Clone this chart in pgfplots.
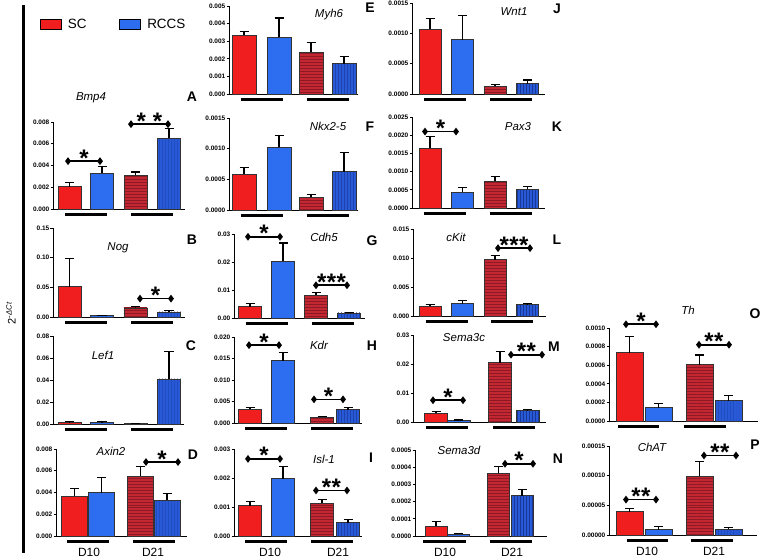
\documentclass[border=0pt]{standalone}
\usepackage{fontspec}
\setmainfont{Liberation Sans}
\usepackage{pgfplots}
\pgfplotsset{compat=1.18}
\usetikzlibrary{patterns}
\definecolor{scred}{RGB}{240,30,30}
\definecolor{scdark}{RGB}{195,40,50}
\definecolor{scstripe}{RGB}{140,25,35}
\definecolor{rcblue}{RGB}{45,110,240}
\definecolor{rcdark}{RGB}{40,90,215}
\definecolor{rcstripe}{RGB}{25,55,150}
\pgfplotsset{
  panel/.style={scale only axis, anchor=south west, clip=false,
    axis x line*=bottom, axis y line*=left,
    axis line style={-, line width=0.9bp, black},
    ymin=0, xtick=\empty, enlargelimits=false,
    tick align=outside, major tick length=2.5bp,
    ytick style={line width=0.8bp, black},
    scaled y ticks=false,
    yticklabel style={font=\bfseries\fontsize{6.5}{7}\selectfont, /pgf/number format/fixed, /pgf/number format/fixed zerofill, /pgf/number format/assume math mode=true, inner sep=1bp},
  },
  bottom/.style={xtick={#1}, xticklabels={D10,D21}, xtick style={draw=none},
    xticklabel style={font=\fontsize{12}{12}\selectfont, anchor=center, inner sep=0pt, yshift=-13.5bp}},
  prec/.style={yticklabel style={/pgf/number format/precision=#1}},
  errb/.style={error bars/y dir=plus, error bars/y explicit,
    error bars/error bar style={line width=1.1bp, black},
    error bars/error mark options={rotate=90, mark size=4.5bp, line width=1.1bp, black}},
  sc10/.style={ybar, bar shift=0pt, fill=scred, draw=black!80, line width=0.8bp, errb},
  rc10/.style={ybar, bar shift=0pt, fill=rcblue, draw=black!80, line width=0.8bp, errb},
  sc21/.style={ybar, bar shift=0pt, fill=scdark, draw=black!80, line width=0.8bp, postaction={pattern=horizontal lines, pattern color=scstripe}, errb},
  rc21/.style={ybar, bar shift=0pt, fill=rcdark, draw=black!80, line width=0.8bp, postaction={pattern=vertical lines, pattern color=rcstripe}, errb},
  sig/.style={black, line width=1.6bp, mark=diamond*, mark size=2.6bp, mark options={solid}},
}
\tikzset{stars/.style={font=\bfseries\fontsize{24}{24}\selectfont, anchor=base, yshift=-5bp, inner sep=0pt}}
\newcommand{\ul}[2]{\draw[line width=3.3bp, black] ([yshift=-5.5bp]axis cs:#1,0) -- ([yshift=-5.5bp]axis cs:#2,0);}
\newcommand{\st}[3]{\node[stars] at (axis cs:#1,#2) {#3};}
\newcommand{\two}{*\hspace{0.5bp}*}
\newcommand{\three}{*\hspace{0.5bp}*\hspace{0.5bp}*}
\newcommand{\lab}[3]{\node[font=\bfseries\fontsize{14}{14}\selectfont, inner sep=0pt] at (#1bp,-#2bp) {#3};}
\newcommand{\gene}[3]{\node[font=\itshape\fontsize{11.5}{12}\selectfont, inner sep=0pt] at (#1bp,-#2bp) {#3};}
\begin{document}
\begin{tikzpicture}
\path[use as bounding box] (0,0) rectangle (761bp,-559bp);
\draw[line width=3bp, black] (23bp,-5bp) -- (23bp,-553bp);
\node[rotate=90, font=\fontsize{11}{11}\selectfont] at (11bp,-313bp) {2\textsuperscript{-\textit{ΔCt}}};

% ---------- Column 1 ----------
% A Bmp4
\begin{axis}[panel, prec=3, at={(53bp,-209bp)}, width=132bp, height=87bp, xmin=53, xmax=185,
  ymax=0.008, ytick={0,0.002,0.004,0.006,0.008}, bar width=23bp,
  legend columns=2,
  legend style={at={(axis description cs:-0.10,2.21)}, anchor=north west, draw=none, fill=none,
    font=\fontsize{13.5}{15}\selectfont, inner sep=0pt, /tikz/every even column/.append style={column sep=31bp}},
  legend image code/.code={\draw[#1] (0bp,-5bp) rectangle (21bp,5bp); \path (25bp,0bp);}]
\addlegendimage{fill=scred, draw=black, line width=0.8bp}
\addlegendentry{SC}
\addlegendimage{fill=rcblue, draw=black, line width=0.8bp}
\addlegendentry{RCCS}
\addplot[sc10] coordinates {(69.5,0.00205) +- (0,0.00035)};
\addplot[rc10] coordinates {(102,0.0033) +- (0,0.0006)};
\addplot[sc21] coordinates {(135.5,0.0031) +- (0,0.0003)};
\addplot[rc21] coordinates {(169,0.0065) +- (0,0.0009)};
\ul{64.75}{106.75} \ul{131.25}{173.25}
\addplot[sig] coordinates {(68,0.0044) (100,0.0044)};
\st{84}{0.0044}{*}
\addplot[sig] coordinates {(131,0.0078) (168,0.0078)};
\st{149.5}{0.0078}{*\hspace{7bp}*}
\end{axis}
% B Nog
\begin{axis}[panel, prec=2, at={(53bp,-317bp)}, width=132bp, height=89bp, xmin=53, xmax=185,
  ymax=0.15, ytick={0,0.05,0.10,0.15}, bar width=23bp]
\addplot[sc10] coordinates {(69.5,0.051) +- (0,0.048)};
\addplot[rc10] coordinates {(102,0.002) +- (0,0.001)};
\addplot[sc21] coordinates {(135.5,0.0153) +- (0,0.0017)};
\addplot[rc21] coordinates {(169,0.0085) +- (0,0.0023)};
\ul{64.75}{106.75} \ul{131.25}{173.25}
\addplot[sig] coordinates {(140,0.031) (171,0.031)};
\st{155.5}{0.031}{*}
\end{axis}
% C Lef1
\begin{axis}[panel, prec=2, at={(53bp,-424bp)}, width=131bp, height=88bp, xmin=53, xmax=184,
  ymax=0.08, ytick={0,0.02,0.04,0.06,0.08}, bar width=23bp]
\addplot[sc10] coordinates {(69.5,0.0015) +- (0,0.0004)};
\addplot[rc10] coordinates {(102,0.0018) +- (0,0.0004)};
\addplot[sc21] coordinates {(135.5,0.0006) +- (0,0.0002)};
\addplot[rc21] coordinates {(169,0.041) +- (0,0.0247)};
\ul{64.75}{106.75} \ul{131.25}{173.25}
\end{axis}
% D Axin2
\begin{axis}[panel, prec=3, bottom={89,153}, at={(56bp,-536bp)}, width=131bp, height=87bp, xmin=56, xmax=187,
  ymax=0.008, ytick={0,0.002,0.004,0.006,0.008}, bar width=26bp]
\addplot[sc10] coordinates {(74.5,0.00366) +- (0,0.00068)};
\addplot[rc10] coordinates {(101.5,0.0040) +- (0,0.0014)};
\addplot[sc21] coordinates {(140.5,0.0055) +- (0,0.0009)};
\addplot[rc21] coordinates {(167,0.0033) +- (0,0.0006)};
\ul{67}{109} \ul{132.75}{174.75}
\addplot[sig] coordinates {(146,0.0068) (178,0.0068)};
\st{162}{0.0068}{*}
\end{axis}

% ---------- Column 2 ----------
% E Myh6
\begin{axis}[panel, prec=3, at={(229bp,-94bp)}, width=129bp, height=88bp, xmin=229, xmax=358,
  ymax=0.005, ytick={0,0.001,0.002,0.003,0.004,0.005}, bar width=24bp]
\addplot[sc10] coordinates {(244,0.00333) +- (0,0.00022)};
\addplot[rc10] coordinates {(279,0.00322) +- (0,0.0011)};
\addplot[sc21] coordinates {(311,0.00236) +- (0,0.00058)};
\addplot[rc21] coordinates {(344,0.00172) +- (0,0.00041)};
\ul{240.5}{282.5} \ul{306.5}{348.5}
\end{axis}
% F Nkx2-5
\begin{axis}[panel, prec=4, at={(229bp,-210bp)}, width=129bp, height=92bp, xmin=229, xmax=358,
  ymax=0.0015, ytick={0,0.0005,0.0010,0.0015}, bar width=24bp]
\addplot[sc10] coordinates {(244,0.000584) +- (0,0.000116)};
\addplot[rc10] coordinates {(279,0.00102) +- (0,0.00019)};
\addplot[sc21] coordinates {(311,0.000207) +- (0,0.000043)};
\addplot[rc21] coordinates {(344,0.000627) +- (0,0.00031)};
\ul{240.5}{282.5} \ul{306.5}{348.5}
\end{axis}
% G Cdh5
\begin{axis}[panel, prec=2, at={(234bp,-318bp)}, width=131bp, height=84bp, xmin=234, xmax=365,
  ymax=0.03, ytick={0,0.01,0.02,0.03}, bar width=23bp]
\addplot[sc10] coordinates {(250,0.0040) +- (0,0.0011)};
\addplot[rc10] coordinates {(283,0.0202) +- (0,0.0066)};
\addplot[sc21] coordinates {(316,0.0082) +- (0,0.0010)};
\addplot[rc21] coordinates {(349,0.0018) +- (0,0.0002)};
\ul{245.5}{287.5} \ul{311.5}{353.5}
\addplot[sig] coordinates {(248,0.029) (280,0.029)};
\st{264}{0.029}{*}
\addplot[sig] coordinates {(316,0.0117) (347,0.0117)};
\st{331.5}{0.0117}{\three}
\end{axis}
% H Kdr
\begin{axis}[panel, prec=3, at={(234bp,-423bp)}, width=128bp, height=86bp, xmin=234, xmax=362,
  ymax=0.020, ytick={0,0.005,0.010,0.015,0.020}, bar width=23bp]
\addplot[sc10] coordinates {(250,0.0032) +- (0,0.0005)};
\addplot[rc10] coordinates {(283,0.0145) +- (0,0.0019)};
\addplot[sc21] coordinates {(322,0.0014) +- (0,0.0002)};
\addplot[rc21] coordinates {(348,0.0031) +- (0,0.0006)};
\ul{245}{287} \ul{311}{353}
\addplot[sig] coordinates {(249,0.0181) (279,0.0181)};
\st{264}{0.0181}{*}
\addplot[sig] coordinates {(314,0.0055) (343,0.0055)};
\st{328.5}{0.0055}{*}
\end{axis}
% I Isl-1
\begin{axis}[panel, prec=3, bottom={270,338}, at={(234bp,-536bp)}, width=128bp, height=87bp, xmin=234, xmax=362,
  ymax=0.003, ytick={0,0.001,0.002,0.003}, bar width=23bp]
\addplot[sc10] coordinates {(250,0.00104) +- (0,0.00015)};
\addplot[rc10] coordinates {(283,0.00198) +- (0,0.00042)};
\addplot[sc21] coordinates {(322,0.00113) +- (0,0.00014)};
\addplot[rc21] coordinates {(348,0.00046) +- (0,0.00012)};
\ul{245}{287} \ul{311}{353}
\addplot[sig] coordinates {(248,0.00266) (280,0.00266)};
\st{264}{0.00266}{*}
\addplot[sig] coordinates {(316,0.00157) (347,0.00157)};
\st{331.5}{0.00157}{\two}
\end{axis}

% ---------- Column 3 ----------
% J Wnt1
\begin{axis}[panel, prec=4, at={(412bp,-94bp)}, width=133bp, height=91bp, xmin=412, xmax=545,
  ymax=0.0015, ytick={0,0.0005,0.0010,0.0015}, bar width=22bp]
\addplot[sc10] coordinates {(430,0.00107) +- (0,0.00018)};
\addplot[rc10] coordinates {(462.5,0.000896) +- (0,0.0004)};
\addplot[sc21] coordinates {(495,0.000126) +- (0,0.000034)};
\addplot[rc21] coordinates {(527.5,0.00017) +- (0,0.00006)};
\ul{424}{466} \ul{490}{532}
\end{axis}
% K Pax3
\begin{axis}[panel, prec=4, at={(412bp,-208bp)}, width=133bp, height=91bp, xmin=412, xmax=545,
  ymax=0.0025, ytick={0,0.0005,0.0010,0.0015,0.0020,0.0025}, bar width=22bp]
\addplot[sc10] coordinates {(430,0.00164) +- (0,0.00033)};
\addplot[rc10] coordinates {(462.5,0.00043) +- (0,0.00013)};
\addplot[sc21] coordinates {(495,0.00073) +- (0,0.00013)};
\addplot[rc21] coordinates {(527.5,0.00052) +- (0,0.00008)};
\ul{424}{466} \ul{490}{532}
\addplot[sig] coordinates {(425,0.0021) (456,0.0021)};
\st{440.5}{0.0021}{*}
\end{axis}
% L cKit
\begin{axis}[panel, prec=3, at={(413bp,-316bp)}, width=133bp, height=87bp, xmin=413, xmax=546,
  ymax=0.015, ytick={0,0.005,0.010,0.015}, bar width=22bp]
\addplot[sc10] coordinates {(430,0.0017) +- (0,0.0003)};
\addplot[rc10] coordinates {(462.5,0.0021) +- (0,0.0005)};
\addplot[sc21] coordinates {(495,0.0097) +- (0,0.0008)};
\addplot[rc21] coordinates {(527.5,0.0020) +- (0,0.0001)};
\ul{426}{468} \ul{491}{533}
\addplot[sig] coordinates {(498,0.0117) (530,0.0117)};
\st{514}{0.0117}{\three}
\end{axis}
% M Sema3c
\begin{axis}[panel, prec=2, at={(413bp,-422bp)}, width=133bp, height=87bp, xmin=413, xmax=546,
  ymax=0.03, ytick={0,0.01,0.02,0.03}, bar width=23bp]
\addplot[sc10] coordinates {(436,0.0031) +- (0,0.0006)};
\addplot[rc10] coordinates {(458.5,0.0005) +- (0,0.0002)};
\addplot[sc21] coordinates {(500,0.0204) +- (0,0.0039)};
\addplot[rc21] coordinates {(527.5,0.0040) +- (0,0.0003)};
\ul{426}{468} \ul{493}{535}
\addplot[sig] coordinates {(433,0.0075) (463,0.0075)};
\st{448}{0.0075}{*}
\addplot[sig] coordinates {(511,0.0232) (542,0.0232)};
\st{526.5}{0.0232}{\two}
\end{axis}
% N Sema3d
\begin{axis}[panel, prec=4, bottom={445,512}, at={(415bp,-536bp)}, width=132bp, height=86bp, xmin=415, xmax=547,
  ymax=0.0005, ytick={0,0.0001,0.0002,0.0003,0.0004,0.0005}, bar width=22bp]
\addplot[sc10] coordinates {(436,0.000058) +- (0,0.000024)};
\addplot[rc10] coordinates {(458.5,0.000012) +- (0,0.000005)};
\addplot[sc21] coordinates {(498.5,0.000364) +- (0,0.000039)};
\addplot[rc21] coordinates {(522,0.000234) +- (0,0.000037)};
\ul{423}{466} \ul{490}{532}
\addplot[sig] coordinates {(505,0.00042) (533,0.00042)};
\st{519}{0.00042}{*}
\end{axis}

% ---------- Column 4 ----------
% O Th
\begin{axis}[panel, prec=4, at={(609bp,-421bp)}, width=149bp, height=93bp, xmin=609, xmax=758,
  ymax=0.0010, ytick={0,0.0002,0.0004,0.0006,0.0008,0.0010}, bar width=27bp]
\addplot[sc10] coordinates {(629.5,0.000734) +- (0,0.000172)};
\addplot[rc10] coordinates {(658.5,0.000143) +- (0,0.000047)};
\addplot[sc21] coordinates {(699.5,0.000607) +- (0,0.000103)};
\addplot[rc21] coordinates {(728.5,0.000218) +- (0,0.000052)};
\ul{618}{659} \ul{684}{726}
\addplot[sig] coordinates {(626,0.00104) (656,0.00104)};
\st{641}{0.00104}{*}
\addplot[sig] coordinates {(699,0.00082) (729,0.00082)};
\st{714}{0.00082}{\two}
\end{axis}
% P ChAT
\begin{axis}[panel, prec=5, bottom={647,714}, at={(609bp,-535bp)}, width=148bp, height=89bp, xmin=609, xmax=757,
  ymax=0.00015, ytick={0,0.00005,0.00010,0.00015}, bar width=27bp]
\addplot[sc10] coordinates {(629.5,0.000039) +- (0,0.000005)};
\addplot[rc10] coordinates {(658.5,0.0000089) +- (0,0.0000061)};
\addplot[sc21] coordinates {(699.5,0.0000987) +- (0,0.0000253)};
\addplot[rc21] coordinates {(728.5,0.0000095) +- (0,0.0000025)};
\ul{627}{668} \ul{691}{733}
\addplot[sig] coordinates {(626,0.0000597) (656,0.0000597)};
\st{641}{0.0000597}{\two}
\addplot[sig] coordinates {(704,0.000134) (736,0.000134)};
\st{720}{0.000134}{\two}
\end{axis}

% ---------- Titles and panel letters ----------
\gene{91}{98}{Bmp4} \gene{118}{248}{Nog} \gene{103}{355}{Lef1} \gene{111}{451}{Axin2}
\gene{329}{15}{Myh6} \gene{328}{126}{Nkx2-5} \gene{324}{237}{Cdh5} \gene{319}{345}{Kdr} \gene{324}{459}{Isl-1}
\gene{514}{12}{Wnt1} \gene{518}{127}{Pax3} \gene{456}{237}{cKit} \gene{464}{338}{Sema3c} \gene{459}{450}{Sema3d}
\gene{688}{310}{Th} \gene{652}{447}{ChAT}
\lab{192}{97}{A} \lab{192}{240}{B} \lab{191}{346}{C} \lab{193}{455}{D}
\lab{370}{8}{E} \lab{370}{127}{F} \lab{372}{241}{G} \lab{372}{346}{H} \lab{371}{458}{I}
\lab{557}{9}{J} \lab{557}{127}{K} \lab{557}{240}{L} \lab{554}{347}{M} \lab{558}{459}{N}
\lab{755}{314}{O} \lab{755}{445}{P}
\end{tikzpicture}
\end{document}
